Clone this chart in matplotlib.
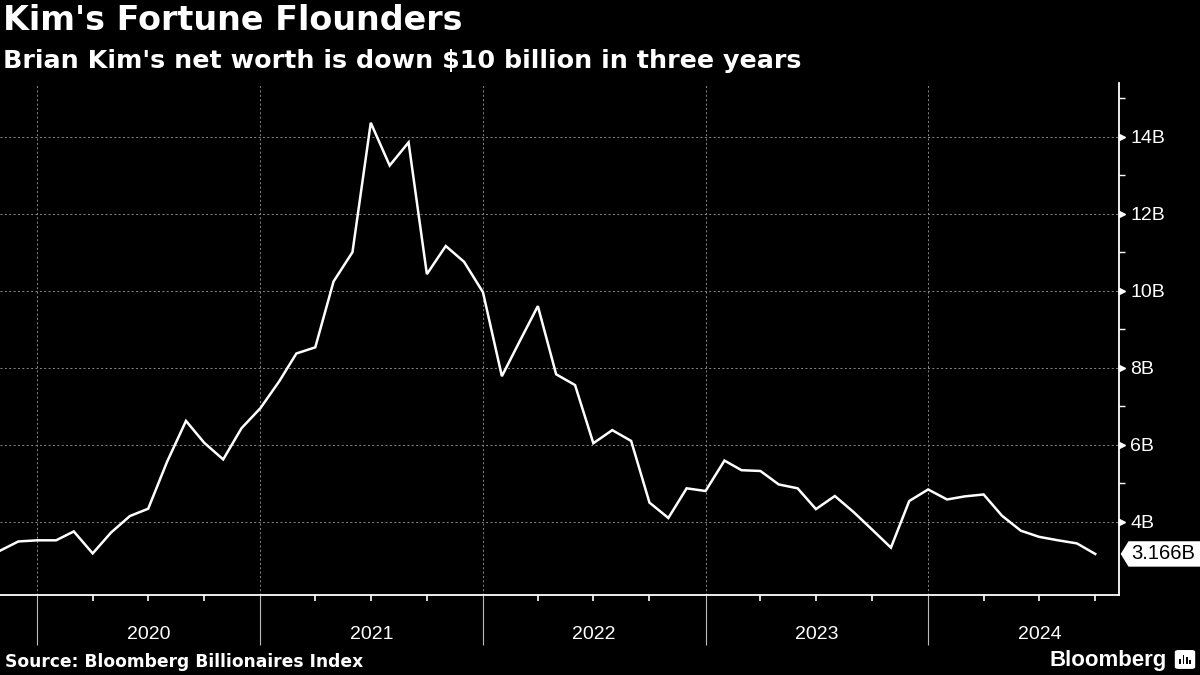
import matplotlib
matplotlib.use("Agg")
import matplotlib.pyplot as plt
import matplotlib.dates as mdates
import matplotlib.transforms as mtransforms
from matplotlib.patches import Polygon, FancyBboxPatch, Rectangle
import pandas as pd

plt.rcParams['font.family'] = ['Liberation Sans', 'DejaVu Sans']

# monthly net worth, $ billions (Nov 2019 - Oct 2024)
dates = pd.date_range("2019-11-01", periods=60, freq="MS")
net_worth = [
    3.25, 3.49,
    3.52, 3.52, 3.75, 3.18, 3.72, 4.15, 4.34, 5.56, 6.62, 6.05, 5.62, 6.43,
    6.95, 7.65, 8.37, 8.53, 10.24, 11.0, 14.36, 13.25, 13.85, 10.43, 11.16, 10.75,
    9.96, 7.78, 8.65, 9.60, 7.83, 7.55, 6.04, 6.38, 6.10, 4.50, 4.10, 4.87,
    4.80, 5.59, 5.34, 5.32, 4.97, 4.87, 4.33, 4.67, 4.25, 3.80, 3.33, 4.54,
    4.84, 4.58, 4.66, 4.71, 4.16, 3.77, 3.61, 3.52, 3.44, 3.166,
]
year_labels = ["2020", "2021", "2022", "2023", "2024"]
y_ticks = [4, 6, 8, 10, 12, 14]
last_label = "3.166B"

title = "Kim's Fortune Flounders"
subtitle = "Brian Kim's net worth is down $10 billion in three years"
source = "Source: Bloomberg Billionaires Index"

fig = plt.figure(figsize=(12, 6.75), dpi=100, facecolor="black")
ax = fig.add_axes([0.0, 0.1185, 0.9325, 0.759], facecolor="black")

ax.plot(dates, net_worth, color="white", lw=1.8, solid_joinstyle="miter", zorder=3)

ax.set_xlim(pd.Timestamp("2019-11-01"), pd.Timestamp("2024-11-09"))
ax.set_ylim(2.1, 15.4)

for s in ["top", "left"]:
    ax.spines[s].set_visible(False)
for s in ["right", "bottom"]:
    ax.spines[s].set_color("white")
    ax.spines[s].set_linewidth(1.3)

# x axis: year lines, quarter ticks
years = [pd.Timestamp(f"{y}-01-01") for y in year_labels]
ax.set_xticks(years)
ax.set_xticklabels([])
ax.xaxis.set_minor_locator(mdates.MonthLocator(bymonth=[4, 7, 10]))
ax.tick_params(axis="x", which="major", length=36, width=0.8, color="#bbbbbb", direction="out")
ax.tick_params(axis="x", which="minor", length=4.5, width=1.2, color="white", direction="out")
xt = mtransforms.blended_transform_factory(ax.transData, ax.transAxes)
for lab in year_labels:
    ax.text(pd.Timestamp(f"{lab}-07-02"), -0.077, lab, transform=xt, ha="center", va="center",
            color="white", fontsize=14)

# y axis on right
ax.yaxis.tick_right()
ax.set_yticks(y_ticks)
ax.set_yticklabels([f"{v}B" for v in y_ticks])
ax.set_yticks([5, 7, 9, 11, 13, 15], minor=True)
ax.tick_params(axis="y", which="major", length=0, pad=8, labelsize=14, labelcolor="white")
ax.tick_params(axis="y", which="minor", length=4, width=1.0, color="white", direction="out")
yt = mtransforms.blended_transform_factory(ax.transAxes, ax.transData)
ax.plot([1.0025] * len(y_ticks), y_ticks, ls="none", marker=">", ms=4.5, color="white",
        transform=yt, clip_on=False, zorder=4)

ax.grid(which="major", axis="both", color="#8a8a8a", ls=(0, (2, 2.5)), lw=0.7)

# last value tag
v = net_worth[-1]
tag = Polygon([(1.0015, v), (1.0085, v + 0.33), (1.075, v + 0.33), (1.075, v - 0.33), (1.0085, v - 0.33)],
              closed=True, facecolor="white", edgecolor="none", transform=yt, clip_on=False, zorder=5)
ax.add_patch(tag)
ax.text(1.0105, v, last_label, transform=yt, ha="left", va="center", color="black",
        fontsize=14.5, zorder=6, clip_on=False)

# titles and footer
head = ['DejaVu Sans']
fig.text(0.0025, 0.969, title, color="white", fontsize=24, fontweight="bold", ha="left", va="center",
         family=head)
fig.text(0.0025, 0.910, subtitle, color="white", fontsize=18.3, fontweight="bold", ha="left", va="center",
         family=head)
fig.text(0.004, 0.019, source, color="white", fontsize=12.3, fontweight="bold", ha="left", va="center",
         family=head)
fig.text(0.9725, 0.022, "Bloomberg", color="white", fontsize=16, fontweight="bold", ha="right", va="center")

# little logo mark
fig.patches.append(FancyBboxPatch((0.9800, 0.010), 0.0150, 0.026, boxstyle="round,pad=0.001,rounding_size=0.003",
                                  transform=fig.transFigure, facecolor="white", edgecolor="none"))
for i, h in enumerate([0.008, 0.013, 0.010, 0.006]):
    fig.patches.append(Rectangle((0.9828 + i * 0.0027, 0.016), 0.0015, h,
                                 transform=fig.transFigure, facecolor="black", edgecolor="none"))

fig.savefig("out.png", dpi=100, facecolor="black")
